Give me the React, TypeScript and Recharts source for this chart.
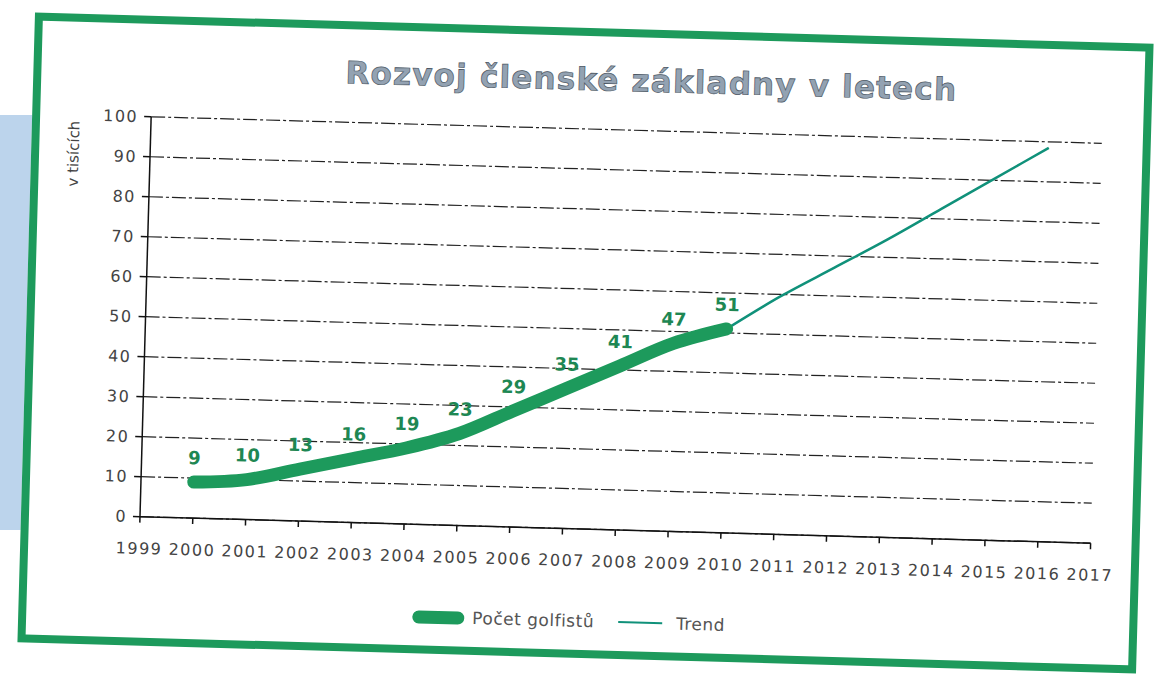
import React from "react"
import { LineChart, Line, XAxis, YAxis, CartesianGrid, Legend, LabelList } from "recharts"

// years shown on the category axis
const years = [1999, 2000, 2001, 2002, 2003, 2004, 2005, 2006, 2007, 2008, 2009, 2010, 2011, 2012, 2013, 2014, 2015, 2016, 2017]
// počet golfistů (v tisících), 2000–2010
const members = [null, 9, 10, 13, 16, 19, 23, 29, 35, 41, 47, 51, null, null, null, null, null, null, null]
// trend, 2010–2016
const trend = [null, null, null, null, null, null, null, null, null, null, null, 51, 59.5, 67, 74.5, 82.5, 90.5, 98.5, null]
const yTicks = [0, 10, 20, 30, 40, 50, 60, 70, 80, 90, 100]

const data = years.map((year, i) => ({ year, members: members[i], trend: trend[i] }))

const GREEN = "#1d9a5c"
const TREND = "#10917a"
const FONT = "DejaVu Sans"

function LegendBox() {
    return (
        <div style={{ display: "flex", alignItems: "center", fontFamily: FONT, fontSize: 17, letterSpacing: 0.5, color: "#555" }}>
            <span style={{ width: 52, height: 13, borderRadius: 7, background: GREEN, display: "inline-block" }} />
            <span style={{ marginLeft: 8 }}>Počet golfistů</span>
            <span style={{ width: 44, height: 2, background: TREND, display: "inline-block", marginLeft: 24 }} />
            <span style={{ marginLeft: 14 }}>Trend</span>
        </div>
    )
}

export default function App() {
    return (
        <div style={{ position: "absolute", left: 0, top: 0, width: 1155, height: 675, overflow: "hidden", background: "#fff" }}>
            <div style={{ position: "absolute", left: 0, top: 115, width: 120, height: 415, background: "#bcd4ec" }} />
            <div
                style={{
                    position: "absolute",
                    left: 26,
                    top: 28,
                    width: 1119,
                    height: 630,
                    boxSizing: "border-box",
                    border: `8px solid ${GREEN}`,
                    background: "#fff",
                    transform: "rotate(1.6deg)",
                    transformOrigin: "center",
                }}
            >
                <div
                    style={{
                        position: "absolute",
                        left: 0,
                        top: 25,
                        width: 1220,
                        textAlign: "center",
                        fontFamily: FONT,
                        fontWeight: "bold",
                        fontSize: 31,
                        letterSpacing: 1.2,
                        color: "#93a2b2",
                        WebkitTextStroke: "0.7px #4d5864",
                    }}
                >
                    Rozvoj členské základny v letech
                </div>
                <LineChart
                    width={1103}
                    height={614}
                    data={data}
                    margin={{ top: 93, right: 41, left: 51, bottom: 71 }}
                    style={{ fontFamily: FONT }}
                >
                    <CartesianGrid vertical={false} stroke="#222" strokeWidth={1.2} strokeDasharray="14 3 3 3" />
                    <XAxis
                        dataKey="year"
                        type="number"
                        domain={[1999, 2017]}
                        ticks={years}
                        interval={0}
                        height={50}
                        stroke="#111"
                        strokeWidth={1.5}
                        tickSize={6}
                        tickMargin={20}
                        tick={{ fill: "#444", fontSize: 16, letterSpacing: 1.5 }}
                    />
                    <YAxis
                        domain={[0, 100]}
                        ticks={yTicks}
                        width={60}
                        stroke="#111"
                        strokeWidth={1.5}
                        tickSize={7}
                        tickMargin={6}
                        tick={{ fill: "#444", fontSize: 16, letterSpacing: 1.5 }}
                        label={{
                            content: () => (
                                <text
                                    x={35}
                                    y={132}
                                    transform="rotate(-90 35 132)"
                                    textAnchor="middle"
                                    dominantBaseline="middle"
                                    fill="#444"
                                    fontSize={15}
                                >
                                    v tisících
                                </text>
                            ),
                        }}
                    />
                    <Legend
                        verticalAlign="middle"
                        align="center"
                        content={() => <LegendBox />}
                        wrapperStyle={{ top: 575, left: 386, width: 520 }}
                    />
                    <Line
                        type="monotone"
                        dataKey="trend"
                        name="Trend"
                        stroke={TREND}
                        strokeWidth={2.5}
                        dot={false}
                        isAnimationActive={false}
                    />
                    <Line
                        type="monotone"
                        dataKey="members"
                        name="Počet golfistů"
                        stroke={GREEN}
                        strokeWidth={13}
                        strokeLinecap="round"
                        dot={false}
                        isAnimationActive={false}
                    >
                        <LabelList dataKey="members" position="top" offset={18} fill="#1e8753" fontSize={18} fontWeight="bold" />
                    </Line>
                </LineChart>
            </div>
        </div>
    )
}
